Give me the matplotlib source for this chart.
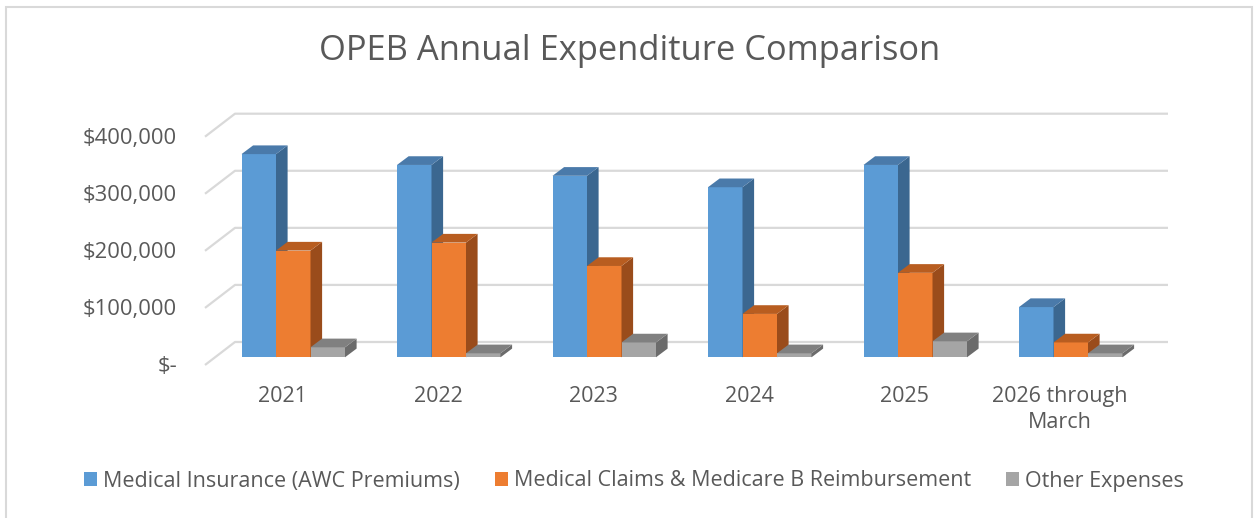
import matplotlib
matplotlib.use("Agg")
import matplotlib.pyplot as plt
from matplotlib.patches import Polygon, Rectangle
import numpy as np

# data
categories = ["2021", "2022", "2023", "2024", "2025", "2026 through\nMarch"]
series_names = ["Medical Insurance (AWC Premiums)",
                "Medical Claims & Medicare B Reimbursement",
                "Other Expenses"]
medical_insurance = [356000, 337000, 318000, 298000, 337000, 88000]
medical_claims = [187000, 201000, 160000, 76000, 148000, 26000]
other_expenses = [17500, 7000, 26000, 7000, 28000, 7000]
y_ticks = [0, 100000, 200000, 300000, 400000]
y_tick_labels = ["$-", "$100,000", "$200,000", "$300,000", "$400,000"]

# colours (front, top, side)
face_colors = ["#5B9BD5", "#ED7D31", "#A5A5A5"]
top_colors = ["#4A7AAA", "#B85D20", "#808080"]
side_colors = ["#3B6790", "#9A4C1B", "#6B6B6B"]
text_color = "#595959"
grid_color = "#D9D9D9"

plt.rcParams['font.family'] = ['Open Sans', 'DejaVu Sans']

W, H = 1254, 518
fig = plt.figure(figsize=(W / 100, H / 100), dpi=100)

# axes = front plane of the 3D box
ax_left, ax_right, ax_bottom, ax_top = 205, 1138, 365, 136.7
ax = fig.add_axes([ax_left / W, (H - ax_bottom) / H,
                   (ax_right - ax_left) / W, (ax_bottom - ax_top) / H])
ax.set_xlim(-0.5, len(categories) - 0.5)
ax.set_ylim(0, 400000)
ax.axis("off")

# pixel -> data conversion for the oblique offsets
px_x = (len(categories)) / (ax_right - ax_left)
px_y = 400000 / (ax_bottom - ax_top)

wall_dx, wall_dy = 30 * px_x, 23 * px_y      # depth of the back wall
bar_dx, bar_dy = 10.5 * px_x, 7.7 * px_y     # front face of the bars
depth_dx, depth_dy = 11.6 * px_x, 8.7 * px_y  # bar thickness

x0, x1 = ax.get_xlim()
for v, lbl in zip(y_ticks, y_tick_labels):
    ax.plot([x0, x0 + wall_dx, x1 + wall_dx], [v, v + wall_dy, v + wall_dy],
            color=grid_color, lw=1.6, clip_on=False, zorder=1,
            solid_capstyle="butt")
    ax.text(x0 - 28 * px_x, v - 2 * px_y, lbl, ha="right", va="center",
            fontsize=15.8, color=text_color)

series = [medical_insurance, medical_claims, other_expenses]
bw = 34.5 * px_x
z = 2
for i in range(len(categories)):
    for j, vals in enumerate(series):
        v = vals[i]
        xl = i + (j - 1.5) * bw + bar_dx
        xr = xl + bw
        yb = bar_dy
        yt = v + bar_dy
        # front face
        ax.add_patch(Rectangle((xl, yb), bw, v, facecolor=face_colors[j],
                               edgecolor="none", zorder=z, clip_on=False))
        # side face
        ax.add_patch(Polygon([(xr, yb), (xr + depth_dx, yb + depth_dy),
                              (xr + depth_dx, yt + depth_dy), (xr, yt)],
                             closed=True, facecolor=side_colors[j],
                             edgecolor="none", zorder=z, clip_on=False))
        # top face
        ax.add_patch(Polygon([(xl, yt), (xr, yt), (xr + depth_dx, yt + depth_dy),
                              (xl + depth_dx, yt + depth_dy)],
                             closed=True, facecolor=top_colors[j],
                             edgecolor="none", zorder=z, clip_on=False))
        z += 1

# category labels
for i, c in enumerate(categories):
    ax.text(i, -21 * px_y, c, ha="center", va="top", fontsize=15.5,
            color=text_color, linespacing=1.3)

fig.text(630 / W, 1 - 51 / H, "OPEB Annual Expenditure Comparison",
         ha="center", va="center", fontsize=24.8, color=text_color)

# legend
handles = [Rectangle((0, 0), 1, 1, facecolor=c, edgecolor="none") for c in face_colors]
fig.legend(handles, series_names, loc="center", bbox_to_anchor=(634 / W, 1 - 481 / H),
           ncol=3, frameon=False, fontsize=15.5, handlelength=0.6, handleheight=0.6,
           handletextpad=0.3, columnspacing=1.6, labelcolor=text_color)

# outer chart border
fig.patches.append(Rectangle((6 / W, -0.1), (1252 - 6) / W, 1.1 - 7 / H,
                             transform=fig.transFigure, fill=False,
                             edgecolor="#D9D9D9", lw=1.5))

fig.savefig("out.png", dpi=100)
